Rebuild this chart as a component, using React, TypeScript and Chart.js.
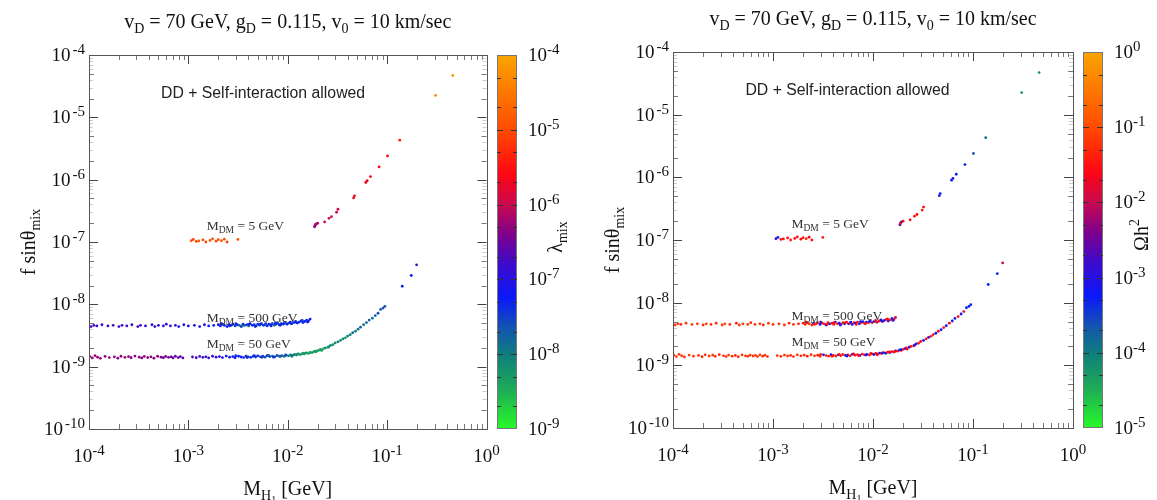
import { useEffect, useRef } from "react";
import { Chart, registerables } from "chart.js";

Chart.register(...registerables);

// Each point: [M_H1 (GeV), f sinθ_mix, log10 λ_mix, log10 Ωh²]
type Pt = [number, number, number, number];

const massDM500: Pt[] = [
  [1.05e-4, 4.4e-9, -6.8, -1.2], [1.12e-4, 4.6e-9, -6.7, -1.2], [1.2e-4, 4.5e-9, -6.8, -1.3],
  [1.35e-4, 4.7e-9, -6.9, -1.2], [1.55e-4, 4.5e-9, -6.8, -1.1], [1.75e-4, 4.6e-9, -6.7, -1.2],
  [2.0e-4, 4.4e-9, -6.9, -1.3], [2.15e-4, 4.6e-9, -6.8, -1.2], [2.4e-4, 4.5e-9, -6.8, -1.2],
  [2.7e-4, 4.7e-9, -6.9, -1.3], [3.1e-4, 4.4e-9, -6.8, -1.2], [3.3e-4, 4.6e-9, -6.7, -1.1],
  [3.7e-4, 4.5e-9, -6.9, -1.2], [4.3e-4, 4.7e-9, -6.8, -1.3], [4.6e-4, 4.4e-9, -6.8, -1.2],
  [5.0e-4, 4.6e-9, -7.0, -1.2], [5.6e-4, 4.5e-9, -6.9, -1.1], [6.0e-4, 4.8e-9, -6.9, -1.3],
  [6.6e-4, 4.5e-9, -7.0, -1.2], [7.4e-4, 4.6e-9, -6.9, -1.2], [8.0e-4, 4.4e-9, -7.0, -1.3],
  [9.0e-4, 4.7e-9, -7.0, -1.2], [1.0e-3, 4.5e-9, -7.1, -1.2], [1.15e-3, 4.6e-9, -7.0, -1.3],
  [1.3e-3, 4.4e-9, -7.1, -1.2], [1.45e-3, 4.7e-9, -7.1, -1.3], [1.6e-3, 4.5e-9, -7.2, -1.2],
  [1.8e-3, 4.6e-9, -7.1, -1.3], [2.0e-3, 4.7e-9, -7.2, -1.4], [2.1e-3, 4.5e-9, -7.3, -1.3],
  [2.2e-3, 4.8e-9, -7.2, -1.5], [2.3e-3, 4.6e-9, -7.3, -1.3], [2.45e-3, 4.4e-9, -7.2, -1.4],
  [2.55e-3, 4.7e-9, -7.4, -3.1], [2.7e-3, 4.6e-9, -7.3, -1.5], [2.8e-3, 4.8e-9, -7.2, -1.4],
  [2.95e-3, 4.5e-9, -7.5, -3.2], [3.1e-3, 4.7e-9, -7.3, -1.6], [3.25e-3, 4.6e-9, -7.8, -1.5],
  [3.4e-3, 4.4e-9, -7.4, -3.0], [3.55e-3, 4.8e-9, -7.3, -1.5], [3.7e-3, 4.6e-9, -7.6, -3.3],
  [3.9e-3, 4.7e-9, -7.3, -1.6], [4.05e-3, 4.5e-9, -7.9, -1.5], [4.2e-3, 4.9e-9, -7.4, -3.1],
  [4.4e-3, 4.6e-9, -7.3, -1.4], [4.6e-3, 4.7e-9, -7.5, -3.2], [4.8e-3, 4.5e-9, -7.4, -1.6],
  [5.0e-3, 4.8e-9, -7.3, -1.5], [5.2e-3, 4.6e-9, -7.8, -3.3], [5.45e-3, 4.9e-9, -7.4, -1.5],
  [5.7e-3, 4.6e-9, -7.3, -3.0], [5.9e-3, 4.7e-9, -7.6, -1.6], [6.2e-3, 4.5e-9, -7.4, -3.2],
  [6.45e-3, 4.8e-9, -7.3, -1.5], [6.7e-3, 4.7e-9, -7.5, -3.1], [7.0e-3, 4.9e-9, -7.4, -1.6],
  [7.3e-3, 4.6e-9, -7.9, -3.3], [7.6e-3, 4.8e-9, -7.3, -1.5], [7.9e-3, 5.0e-9, -7.4, -3.2],
  [8.2e-3, 4.7e-9, -7.5, -1.6], [8.6e-3, 4.9e-9, -7.3, -3.0], [9.0e-3, 4.8e-9, -7.4, -1.5],
  [9.4e-3, 5.1e-9, -7.6, -3.3], [9.8e-3, 4.8e-9, -7.3, -1.6], [1.02e-2, 5.0e-9, -7.4, -3.1],
  [1.06e-2, 5.2e-9, -7.3, -1.5], [1.1e-2, 4.9e-9, -7.5, -3.2], [1.15e-2, 5.1e-9, -7.4, -1.6],
  [1.2e-2, 5.3e-9, -7.3, -3.0], [1.25e-2, 5.0e-9, -7.4, -1.5], [1.3e-2, 5.2e-9, -7.3, -3.2],
  [1.36e-2, 5.4e-9, -7.5, -1.6], [1.42e-2, 5.1e-9, -7.4, -3.1], [1.48e-2, 5.3e-9, -7.3, -1.5],
  [1.55e-2, 5.6e-9, -7.4, -3.3], [1.62e-2, 5.4e-9, -7.3, -1.6], [1.68e-2, 5.8e-9, -7.2, -2.0],
  [2.15e-3, 4.9e-9, -7.2, -1.5], [2.6e-3, 4.5e-9, -7.3, -1.4], [3.0e-3, 4.9e-9, -7.4, -3.0],
  [3.5e-3, 4.5e-9, -7.9, -1.5], [4.1e-3, 4.8e-9, -7.3, -1.6], [4.7e-3, 4.4e-9, -7.4, -3.2],
  [5.3e-3, 4.8e-9, -7.3, -1.5], [6.0e-3, 4.9e-9, -7.5, -3.1], [6.8e-3, 4.5e-9, -7.3, -1.6],
  [7.5e-3, 5.0e-9, -7.4, -3.3], [8.4e-3, 4.6e-9, -7.3, -1.5], [9.2e-3, 5.0e-9, -7.5, -3.2],
  [1.08e-2, 4.9e-9, -7.4, -1.6], [1.22e-2, 5.1e-9, -7.3, -3.1], [1.4e-2, 5.5e-9, -7.4, -1.5],
  [1.58e-2, 5.2e-9, -7.3, -3.2],
];

const massDM50: Pt[] = [
  [1.02e-4, 1.45e-9, -6.2, -1.2], [1.08e-4, 1.38e-9, -6.3, -1.1], [1.15e-4, 1.5e-9, -6.2, -1.2],
  [1.22e-4, 1.42e-9, -6.3, -1.3], [1.3e-4, 1.36e-9, -6.2, -1.2], [1.45e-4, 1.46e-9, -6.3, -1.1],
  [1.6e-4, 1.4e-9, -6.2, -1.2], [1.8e-4, 1.44e-9, -6.3, -1.2], [1.95e-4, 1.37e-9, -6.4, -1.3],
  [2.1e-4, 1.47e-9, -6.3, -1.2], [2.3e-4, 1.41e-9, -6.2, -1.1], [2.5e-4, 1.45e-9, -6.3, -1.2],
  [2.65e-4, 1.39e-9, -6.4, -1.2], [2.9e-4, 1.48e-9, -6.3, -1.3], [3.2e-4, 1.42e-9, -6.3, -1.2],
  [3.4e-4, 1.38e-9, -6.4, -1.2], [3.6e-4, 1.46e-9, -6.2, -1.1], [3.9e-4, 1.4e-9, -6.4, -1.2],
  [4.2e-4, 1.44e-9, -6.3, -1.3], [4.5e-4, 1.37e-9, -6.4, -1.2], [4.9e-4, 1.47e-9, -6.3, -1.2],
  [5.3e-4, 1.42e-9, -6.4, -1.1], [5.6e-4, 1.39e-9, -6.5, -1.2], [5.9e-4, 1.46e-9, -6.4, -1.3],
  [6.3e-4, 1.41e-9, -6.5, -1.2], [6.7e-4, 1.44e-9, -6.5, -1.2], [7.0e-4, 1.38e-9, -6.5, -1.1],
  [7.4e-4, 1.47e-9, -6.6, -1.2], [7.9e-4, 1.4e-9, -6.5, -1.3], [8.3e-4, 1.45e-9, -6.6, -1.2],
  [8.8e-4, 1.38e-9, -6.7, -1.2], [1.1e-3, 1.43e-9, -6.7, -1.2], [1.2e-3, 1.39e-9, -6.8, -1.3],
  [1.3e-3, 1.46e-9, -6.7, -1.2], [1.4e-3, 1.41e-9, -6.8, -1.2], [1.5e-3, 1.44e-9, -6.9, -1.3],
  [1.6e-3, 1.38e-9, -6.8, -1.2], [1.75e-3, 1.47e-9, -6.9, -1.2], [1.9e-3, 1.42e-9, -7.0, -1.3],
  [2.05e-3, 1.45e-9, -7.1, -1.2], [2.2e-3, 1.4e-9, -7.0, -1.4], [2.4e-3, 1.48e-9, -7.2, -1.3],
  [2.6e-3, 1.42e-9, -7.1, -1.2], [2.8e-3, 1.45e-9, -7.3, -1.4], [2.95e-3, 1.39e-9, -7.2, -1.3],
  [3.2e-3, 1.47e-9, -7.3, -3.1], [3.4e-3, 1.43e-9, -7.2, -1.4], [3.6e-3, 1.4e-9, -7.4, -1.3],
  [3.8e-3, 1.48e-9, -7.3, -3.2], [4.0e-3, 1.44e-9, -7.4, -1.5], [4.25e-3, 1.41e-9, -7.3, -1.4],
  [4.5e-3, 1.47e-9, -7.5, -3.0], [4.75e-3, 1.43e-9, -7.4, -1.5], [5.0e-3, 1.49e-9, -7.3, -1.4],
  [5.3e-3, 1.44e-9, -7.5, -3.2], [5.6e-3, 1.47e-9, -7.4, -1.5], [5.9e-3, 1.42e-9, -7.6, -1.4],
  [6.2e-3, 1.5e-9, -7.4, -3.1], [6.6e-3, 1.45e-9, -7.5, -1.5], [7.0e-3, 1.48e-9, -7.7, -1.6],
  [7.4e-3, 1.44e-9, -7.5, -3.3], [7.8e-3, 1.51e-9, -7.6, -1.5], [8.2e-3, 1.47e-9, -7.8, -1.6],
  [8.7e-3, 1.5e-9, -7.6, -3.2], [9.2e-3, 1.46e-9, -7.9, -1.5], [9.7e-3, 1.52e-9, -7.8, -1.6],
  [1.02e-2, 1.49e-9, -8.0, -3.1], [1.07e-2, 1.55e-9, -7.9, -1.6], [1.12e-2, 1.52e-9, -8.1, -1.5],
  [1.17e-2, 1.57e-9, -8.0, -3.2], [1.22e-2, 1.54e-9, -8.2, -1.6], [1.28e-2, 1.6e-9, -8.1, -1.5],
  [1.34e-2, 1.56e-9, -8.3, -3.3], [1.4e-2, 1.62e-9, -8.2, -1.6], [1.47e-2, 1.6e-9, -8.3, -3.1],
  [1.54e-2, 1.66e-9, -8.2, -1.6], [1.61e-2, 1.63e-9, -8.4, -1.5], [1.68e-2, 1.7e-9, -8.3, -3.2],
  [1.76e-2, 1.68e-9, -8.2, -1.6], [1.84e-2, 1.75e-9, -8.4, -3.0], [1.92e-2, 1.73e-9, -8.3, -1.6],
  [2.0e-2, 1.8e-9, -8.4, -1.5], [2.1e-2, 1.85e-9, -8.2, -3.2], [2.2e-2, 1.82e-9, -8.3, -1.6],
  [2.3e-2, 1.95e-9, -8.4, -3.1], [2.4e-2, 2.0e-9, -8.2, -1.5], [2.55e-2, 2.05e-9, -8.3, -1.6],
  [2.7e-2, 2.2e-9, -8.1, -3.2], [2.85e-2, 2.25e-9, -8.3, -1.5], [3.0e-2, 2.4e-9, -8.2, -1.6],
  [3.2e-2, 2.5e-9, -8.0, -3.3], [3.4e-2, 2.65e-9, -8.2, -1.6], [3.6e-2, 2.8e-9, -8.1, -3.1],
  [3.8e-2, 2.9e-9, -8.3, -1.5], [4.0e-2, 3.1e-9, -8.0, -1.6], [4.25e-2, 3.25e-9, -8.1, -3.2],
  [4.5e-2, 3.5e-9, -7.9, -1.6], [4.8e-2, 3.7e-9, -8.1, -3.3], [5.1e-2, 4.0e-9, -7.9, -1.5],
  [5.4e-2, 4.3e-9, -7.8, -3.2], [5.8e-2, 4.7e-9, -8.0, -1.6], [6.2e-2, 5.1e-9, -7.8, -3.1],
  [6.6e-2, 5.6e-9, -7.7, -3.3], [7.1e-2, 6.0e-9, -7.9, -1.6], [7.6e-2, 6.6e-9, -7.7, -3.2],
  [8.1e-2, 7.2e-9, -7.6, -1.8], [8.6e-2, 8.3e-9, -7.7, -3.3], [9.1e-2, 8.7e-9, -7.6, -3.2],
  [9.5e-2, 9.3e-9, -7.6, -3.3], [1.42e-1, 1.95e-8, -7.3, -3.3], [1.75e-1, 2.9e-8, -7.2, -3.4],
  [1.98e-1, 4.3e-8, -6.7, -2.0],
  [3.0e-3, 1.5e-9, -7.3, -1.4], [3.9e-3, 1.4e-9, -7.4, -1.5], [4.6e-3, 1.5e-9, -7.3, -1.4],
  [5.5e-3, 1.41e-9, -7.5, -3.1], [6.4e-3, 1.52e-9, -7.6, -1.6], [7.2e-3, 1.42e-9, -7.4, -1.5],
  [8.5e-3, 1.46e-9, -7.7, -3.2], [9.5e-3, 1.55e-9, -7.5, -1.5], [1.1e-2, 1.47e-9, -8.0, -1.6],
  [1.25e-2, 1.58e-9, -8.2, -3.1], [1.45e-2, 1.64e-9, -8.3, -1.5], [1.65e-2, 1.66e-9, -8.4, -1.6],
  [1.9e-2, 1.78e-9, -8.3, -3.2], [2.15e-2, 1.9e-9, -8.4, -1.6], [2.6e-2, 2.1e-9, -8.2, -3.1],
];

const massDM5: Pt[] = [
  [1.07e-3, 1.05e-7, -5.0, -3.0], [1.12e-3, 1.1e-7, -5.1, -3.1], [1.2e-3, 1.02e-7, -5.0, -1.5],
  [1.27e-3, 1.04e-7, -4.9, -1.6], [1.4e-3, 1.08e-7, -5.0, -1.5], [1.5e-3, 1.0e-7, -5.1, -1.4],
  [1.65e-3, 1.06e-7, -5.0, -1.6], [1.75e-3, 1.12e-7, -4.9, -1.5], [1.9e-3, 1.03e-7, -5.0, -1.6],
  [2.0e-3, 1.09e-7, -5.0, -1.5], [2.15e-3, 1.05e-7, -4.9, -1.4], [2.3e-3, 1.11e-7, -5.0, -1.6],
  [2.45e-3, 1.0e-7, -5.1, -1.5], [3.15e-3, 1.1e-7, -4.9, -1.4],
  [1.86e-2, 1.75e-7, -6.3, -3.0], [1.88e-2, 1.82e-7, -6.2, -1.6], [1.9e-2, 1.9e-7, -6.3, -1.5],
  [1.93e-2, 1.95e-7, -6.2, -3.1], [2.0e-2, 2.0e-7, -6.1, -1.6], [2.35e-2, 2.1e-7, -6.0, -1.6],
  [2.6e-2, 2.4e-7, -6.0, -1.5], [2.75e-2, 2.55e-7, -5.9, -1.6], [3.1e-2, 3.0e-7, -5.9, -1.5],
  [3.2e-2, 3.35e-7, -5.9, -1.6], [4.6e-2, 5.1e-7, -5.7, -3.3], [4.7e-2, 5.5e-7, -5.7, -3.3],
  [6.1e-2, 9.0e-7, -5.7, -3.3], [6.3e-2, 9.6e-7, -5.7, -3.2], [6.8e-2, 1.12e-6, -5.6, -3.3],
  [8.3e-2, 1.6e-6, -5.6, -3.3], [1.01e-1, 2.4e-6, -5.5, -3.7], [1.34e-1, 4.3e-6, -5.4, -3.9],
  [3.07e-1, 2.25e-5, -4.3, -4.2], [4.58e-1, 4.7e-5, -4.2, -4.3],
];

const xTickExps = [-4, -3, -2, -1, 0];
const yTickExps = [-10, -9, -8, -7, -6, -5, -4];
const lambdaTickExps = [-9, -8, -7, -6, -5, -4];
const omegaTickExps = [-5, -4, -3, -2, -1, 0];

const regionNote = "DD + Self-interaction allowed";
const regionNoteAt: [number, number] = [5.3e-4, 2.05e-5];
const massLabels: { mass: string; at: [number, number] }[] = [
  { mass: "5", at: [1.53e-3, 1.55e-7] },
  { mass: "500", at: [1.53e-3, 5.2e-9] },
  { mass: "50", at: [1.53e-3, 2.0e-9] },
];

// colour map of the colour bars: fraction from bottom -> rgb
const paletteStops: [number, [number, number, number]][] = [
  [0.0, [40, 250, 40]],
  [0.1, [30, 175, 85]],
  [0.2, [15, 125, 125]],
  [0.27, [20, 85, 175]],
  [0.35, [10, 25, 250]],
  [0.44, [60, 10, 205]],
  [0.52, [125, 0, 140]],
  [0.6, [200, 10, 80]],
  [0.68, [255, 5, 20]],
  [0.8, [255, 75, 0]],
  [1.0, [250, 165, 0]],
];

function paletteColor(t: number): string {
  const u = Math.max(0, Math.min(1, t));
  for (let i = 1; i < paletteStops.length; i++) {
    const [t1, c1] = paletteStops[i];
    if (u <= t1) {
      const [t0, c0] = paletteStops[i - 1];
      const f = (u - t0) / (t1 - t0);
      const c = c0.map((v, k) => Math.round(v + (c1[k] - v) * f));
      return `rgb(${c[0]},${c[1]},${c[2]})`;
    }
  }
  const c = paletteStops[paletteStops.length - 1][1];
  return `rgb(${c[0]},${c[1]},${c[2]})`;
}

const SERIF = '"Liberation Serif", "Times New Roman", serif';
const SANS = '"Liberation Sans", Arial, sans-serif';

type Seg = { t: string; size: number; dy?: number; dx?: number; family?: string };

function segFont(s: Seg) {
  return `${s.size}px ${s.family ?? SERIF}`;
}

function richWidth(ctx: CanvasRenderingContext2D, segs: Seg[]) {
  let w = 0;
  for (const s of segs) {
    ctx.font = segFont(s);
    w += ctx.measureText(s.t).width + (s.dx ?? 0);
  }
  return w;
}

function drawRich(
  ctx: CanvasRenderingContext2D,
  segs: Seg[],
  x: number,
  y: number,
  align: "left" | "center" | "right"
) {
  const w = richWidth(ctx, segs);
  let cx = align === "left" ? x : align === "center" ? x - w / 2 : x - w;
  ctx.textAlign = "left";
  ctx.textBaseline = "alphabetic";
  for (const s of segs) {
    ctx.font = segFont(s);
    cx += s.dx ?? 0;
    ctx.fillText(s.t, cx, y + (s.dy ?? 0));
    cx += ctx.measureText(s.t).width;
  }
}

// "10" with a raised exponent
const pow10 = (e: number, gap = 0): Seg[] => [
  { t: "10", size: 19 },
  { t: String(e), size: 15, dy: -7, dx: gap },
];

const titleSegs: Seg[] = [
  { t: "v", size: 20 },
  { t: "D", size: 14, dy: 5 },
  { t: " = 70 GeV, g", size: 20 },
  { t: "D", size: 14, dy: 5 },
  { t: " = 0.115, v", size: 20 },
  { t: "0", size: 14, dy: 5 },
  { t: " = 10 km/sec", size: 20 },
];
const xTitleSegs: Seg[] = [
  { t: "M", size: 20 },
  { t: "H", size: 14, dy: 5 },
  { t: "1", size: 10, dy: 8 },
  { t: " [GeV]", size: 20 },
];
const yTitleSegs: Seg[] = [
  { t: "f sinθ", size: 20 },
  { t: "mix", size: 14, dy: 5 },
];
const lambdaTitleSegs: Seg[] = [
  { t: "λ", size: 20 },
  { t: "mix", size: 14, dy: 5 },
];
const omegaTitleSegs: Seg[] = [
  { t: "Ωh", size: 20 },
  { t: "2", size: 14, dy: -9 },
];

type PanelSpec = {
  colour: 2 | 3;
  cbTicks: number[];
  cbTitle: Seg[];
  width: number;
  padding: { left: number; right: number; top: number; bottom: number };
};

const panels: PanelSpec[] = [
  {
    colour: 2,
    cbTicks: lambdaTickExps,
    cbTitle: lambdaTitleSegs,
    width: 580,
    padding: { left: 89, right: 93.5, top: 55, bottom: 71 },
  },
  {
    colour: 3,
    cbTicks: omegaTickExps,
    cbTitle: omegaTitleSegs,
    width: 577,
    padding: { left: 93, right: 84, top: 52, bottom: 72 },
  },
];

function decorPlugin(spec: PanelSpec) {
  return {
    id: "panelDecor",
    afterDraw(chart: any) {
      const { ctx, chartArea: a, scales } = chart;
      const xs = scales.x;
      const ys = scales.y;
      const cs = scales.cb;
      const cbMin = spec.cbTicks[0];
      const cbMax = spec.cbTicks[spec.cbTicks.length - 1];
      ctx.save();

      // inward ticks on all four sides
      const line = (x1: number, y1: number, x2: number, y2: number) => {
        ctx.beginPath();
        ctx.moveTo(x1, y1);
        ctx.lineTo(x2, y2);
        ctx.stroke();
      };
      ctx.lineWidth = 1;
      for (let e = xTickExps[0]; e < xTickExps[xTickExps.length - 1]; e++) {
        for (let m = 1; m <= 9; m++) {
          const px = Math.round(xs.getPixelForValue(m * Math.pow(10, e))) + 0.5;
          const len = m === 1 ? 9 : 5;
          ctx.strokeStyle = m === 1 ? "#444" : "#777";
          line(px, a.bottom, px, a.bottom - len);
          line(px, a.top, px, a.top + len);
        }
      }
      for (let e = yTickExps[0]; e < yTickExps[yTickExps.length - 1]; e++) {
        for (let m = 1; m <= 9; m++) {
          const py = Math.round(ys.getPixelForValue(m * Math.pow(10, e))) + 0.5;
          const strong = m === 1 || m === 2 || m === 5;
          const len = m === 1 ? 9 : strong ? 5 : 4;
          ctx.strokeStyle = m === 1 ? "#444" : strong ? "#777" : "#ccc";
          line(a.left, py, a.left + len, py);
          line(a.right, py, a.right - len, py);
        }
      }

      // frame
      ctx.strokeStyle = "#555";
      ctx.strokeRect(
        Math.round(a.left) + 0.5,
        Math.round(a.top) + 0.5,
        Math.round(a.right) - Math.round(a.left),
        Math.round(a.bottom) - Math.round(a.top)
      );

      ctx.fillStyle = "#111";
      // tick labels
      for (const e of xTickExps) {
        const px = xs.getPixelForValue(Math.pow(10, e));
        drawRich(ctx, pow10(e), px, a.bottom + 33, "center");
      }
      for (const e of yTickExps) {
        const py = ys.getPixelForValue(Math.pow(10, e));
        drawRich(ctx, pow10(e, 2), a.left - 4, py + 6, "right");
      }

      // titles
      const cx = (a.left + a.right) / 2;
      const cy = (a.top + a.bottom) / 2;
      drawRich(ctx, titleSegs, cx, a.top - 27, "center");
      drawRich(ctx, xTitleSegs, cx, a.bottom + 66, "center");
      ctx.save();
      ctx.translate(a.left - 54, cy);
      ctx.rotate(-Math.PI / 2);
      drawRich(ctx, yTitleSegs, 0, 0, "center");
      ctx.restore();

      // annotations
      ctx.font = `15.8px ${SANS}`;
      ctx.textAlign = "left";
      ctx.fillStyle = "#222";
      ctx.fillText(
        regionNote,
        xs.getPixelForValue(regionNoteAt[0]),
        ys.getPixelForValue(regionNoteAt[1])
      );
      ctx.fillStyle = "#333";
      for (const lab of massLabels) {
        drawRich(
          ctx,
          [
            { t: "M", size: 13.5 },
            { t: "DM", size: 9.5, dy: 3 },
            { t: ` = ${lab.mass} GeV`, size: 13.5 },
          ],
          xs.getPixelForValue(lab.at[0]),
          ys.getPixelForValue(lab.at[1]),
          "left"
        );
      }

      // colour bar
      const cbL = Math.round(a.right) + 10;
      const cbW = 20;
      const top = cs.getPixelForValue(Math.pow(10, cbMax));
      const bot = cs.getPixelForValue(Math.pow(10, cbMin));
      const grad = ctx.createLinearGradient(0, bot, 0, top);
      for (const [t] of paletteStops) grad.addColorStop(t, paletteColor(t));
      ctx.fillStyle = grad;
      ctx.fillRect(cbL, top, cbW, bot - top);
      ctx.strokeStyle = "#777";
      ctx.strokeRect(cbL + 0.5, Math.round(top) + 0.5, cbW - 1, Math.round(bot - top) - 1);
      ctx.strokeStyle = "#333";
      for (let e = cbMin; e < cbMax; e++) {
        for (const m of [1, 2, 5]) {
          const py = Math.round(cs.getPixelForValue(m * Math.pow(10, e))) + 0.5;
          const len = m === 1 ? 6 : 4;
          if (m === 1 && e === cbMin) continue;
          line(cbL, py, cbL + len, py);
          line(cbL + cbW, py, cbL + cbW - len, py);
        }
      }
      ctx.fillStyle = "#111";
      for (const e of spec.cbTicks) {
        const py = cs.getPixelForValue(Math.pow(10, e));
        drawRich(ctx, pow10(e), cbL + cbW + 11, py + 6, "left");
      }
      ctx.save();
      ctx.translate(cbL + cbW + 45, cy - 5);
      ctx.rotate(-Math.PI / 2);
      drawRich(ctx, spec.cbTitle, 0, 0, "center");
      ctx.restore();

      ctx.restore();
    },
  };
}

function Panel({ spec }: { spec: PanelSpec }) {
  const ref = useRef<HTMLCanvasElement | null>(null);
  useEffect(() => {
    const canvas = ref.current;
    if (!canvas) return;
    const cbMin = spec.cbTicks[0];
    const cbMax = spec.cbTicks[spec.cbTicks.length - 1];
    const series = [massDM500, massDM50, massDM5];
    const chart = new Chart(canvas, {
      type: "scatter",
      data: {
        datasets: series.map((pts) => ({
          data: pts.map((p) => ({ x: p[0], y: p[1] })),
          pointRadius: 1.4,
          pointBorderWidth: 0,
          pointBackgroundColor: pts.map((p) =>
            paletteColor((p[spec.colour] - cbMin) / (cbMax - cbMin))
          ),
          showLine: false,
        })),
      },
      options: {
        responsive: false,
        animation: false,
        devicePixelRatio: 1,
        events: [],
        layout: { padding: spec.padding },
        plugins: { legend: { display: false }, tooltip: { enabled: false } },
        scales: {
          x: { type: "logarithmic", min: 1e-4, max: 1, display: false },
          y: { type: "logarithmic", min: 1e-10, max: 1e-4, display: false },
          cb: {
            type: "logarithmic",
            axis: "y",
            min: Math.pow(10, cbMin),
            max: Math.pow(10, cbMax),
            display: false,
          },
        },
      } as any,
      plugins: [decorPlugin(spec)],
    });
    return () => chart.destroy();
  }, [spec]);
  return (
    <canvas
      ref={ref}
      width={spec.width}
      height={500}
      style={{ display: "block", width: spec.width, height: 500 }}
    />
  );
}

export default function App() {
  return (
    <div
      style={{
        position: "absolute",
        left: 0,
        top: 0,
        width: 1157,
        height: 500,
        display: "flex",
        background: "#fff",
      }}
    >
      <Panel spec={panels[0]} />
      <Panel spec={panels[1]} />
    </div>
  );
}
